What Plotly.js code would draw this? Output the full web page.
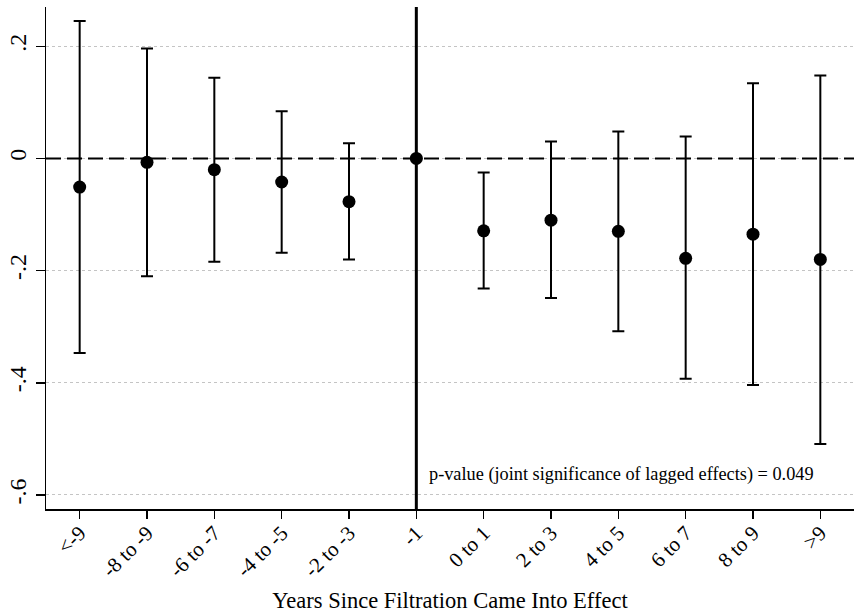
<!DOCTYPE html>
<html>
<head>
<meta charset="utf-8">
<script src="https://cdn.plot.ly/plotly-3.0.1.min.js"></script>
<style>
html,body{margin:0;padding:0;background:#fff;}
#chart{width:856px;height:613px;}
</style>
</head>
<body>
<div id="chart"></div>
<script>
var categories = ["<-9", "-8 to -9", "-6 to -7", "-4 to -5", "-2 to -3", "-1",
                  "0 to 1", "2 to 3", "4 to 5", "6 to 7", "8 to 9", ">9"];
var estimates = [-0.051, -0.007, -0.020, -0.042, -0.077, 0.000,
                 -0.129, -0.110, -0.130, -0.178, -0.135, -0.180];
var ciLower = [-0.347, -0.210, -0.184, -0.168, -0.180, null,
               -0.232, -0.249, -0.308, -0.393, -0.404, -0.509];
var ciUpper = [0.245, 0.196, 0.144, 0.084, 0.027, null,
               -0.025, 0.030, 0.048, 0.039, 0.134, 0.148];
var yTickVals = [0.2, 0, -0.2, -0.4, -0.6];
var yTickText = [".2", "0", "-.2", "-.4", "-.6"];
var refCategory = "-1";
var refValue = 0;
var noteText = "p-value (joint significance of lagged effects) = 0.049";
var xTitle = "Years Since Filtration Came Into Effect";

var errPlus = estimates.map(function (e, i) { return ciUpper[i] === null ? 0 : ciUpper[i] - e; });
var errMinus = estimates.map(function (e, i) { return ciLower[i] === null ? 0 : e - ciLower[i]; });
var refIndex = categories.indexOf(refCategory);

var serif = "Liberation Serif, Times New Roman, serif";

var trace = {
  type: "scatter",
  mode: "markers",
  x: categories,
  y: estimates,
  marker: {color: "#000", size: 13, symbol: "circle"},
  error_y: {
    type: "data", symmetric: false,
    array: errPlus, arrayminus: errMinus,
    color: "#000", thickness: 2, width: 6
  },
  cliponaxis: false,
  hoverinfo: "skip"
};

var layout = {
  width: 856, height: 613,
  margin: {l: 46, r: 2, t: 7, b: 104},
  paper_bgcolor: "#fff", plot_bgcolor: "#fff",
  showlegend: false,
  font: {family: serif, color: "#000", size: 20},
  xaxis: {
    type: "category",
    categoryorder: "array", categoryarray: categories,
    range: [-0.5, 11.5],
    showgrid: false, zeroline: false,
    showline: true, linecolor: "#000", linewidth: 1.5,
    ticks: "outside", ticklen: 8, tickwidth: 1.5, tickcolor: "#000",
    tickangle: -45,
    ticklabelstandoff: -6,
    tickfont: {family: serif, size: 21, color: "#000"},
    title: {text: xTitle, font: {family: serif, size: 22.5, color: "#000"}, standoff: 18}
  },
  yaxis: {
    range: [-0.625, 0.27],
    tickvals: yTickVals, ticktext: yTickText,
    showgrid: true, gridcolor: "#c4c4c4", gridwidth: 1, griddash: "dot",
    zeroline: false,
    showline: true, linecolor: "#000", linewidth: 1.5,
    ticks: "outside", ticklen: 9, tickwidth: 1.5, tickcolor: "#000",
    tickangle: -90,
    tickfont: {family: serif, size: 24, color: "#000"}
  },
  shapes: [
    {type: "line", xref: "paper", yref: "y", x0: 0, x1: 1, y0: refValue, y1: refValue,
     line: {color: "#000", width: 2, dash: "15px,6px"}, layer: "above"},
    {type: "line", xref: "x", yref: "paper", x0: refIndex, x1: refIndex, y0: 0, y1: 1,
     line: {color: "#000", width: 3}, layer: "above"}
  ],
  annotations: [
    {text: noteText, xref: "paper", yref: "y", x: 0.472, y: -0.563,
     xanchor: "left", yanchor: "middle", showarrow: false,
     font: {family: serif, size: 18.3, color: "#000"}}
  ]
};

Plotly.newPlot("chart", [trace], layout, {displayModeBar: false, staticPlot: true});
</script>
</body>
</html>
